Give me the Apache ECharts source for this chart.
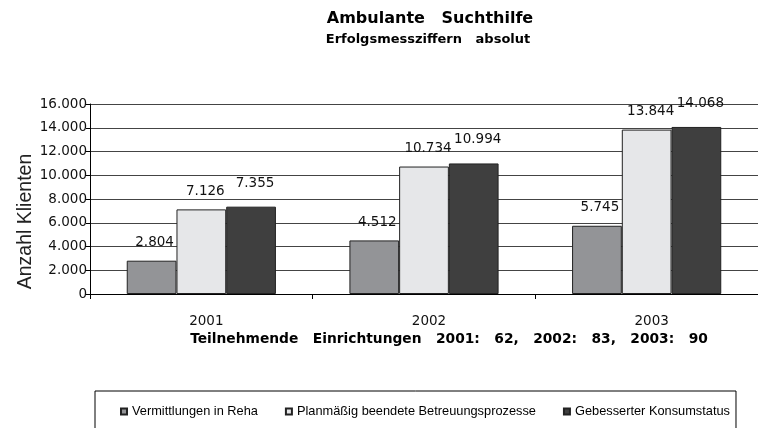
<!DOCTYPE html>
<html>
<head>
<meta charset="utf-8">
<script src="https://cdn.jsdelivr.net/npm/echarts@6/dist/echarts.min.js"></script>
<style>html,body{margin:0;padding:0;background:#fff}#c{width:758px;height:428px}</style>
</head>
<body>
<div id="c"></div>
<script>
var categories = ['2001', '2002', '2003'];
var seriesNames = ['Vermittlungen in Reha', 'Planmäßig beendete Betreuungsprozesse', 'Gebesserter Konsumstatus'];
var vermittlungen = [2804, 4512, 5745];
var planmaessig = [7126, 10734, 13844];
var gebessert = [7355, 10994, 14068];
var titleText = 'Ambulante   Suchthilfe';
var subtitleText = 'Erfolgsmessziffern   absolut';
var xAxisTitle = 'Teilnehmende   Einrichtungen   2001:   62,   2002:   83,   2003:   90';
var yAxisTitle = 'Anzahl Klienten';
var yMin = 0, yMax = 16000, yStep = 2000;

function fmt(v) { return String(v).replace(/\B(?=(\d{3})+(?!\d))/g, '.'); }

var numFont = 'DejaVu Sans';
var chart = echarts.init(document.getElementById('c'), null, {renderer: 'canvas'});
function mkSeries(name, data, color, dist, off) {
  return {
    name: name, type: 'bar', data: data,
    barGap: '0%', barCategoryGap: '33%',
    itemStyle: {color: color, borderColor: '#222', borderWidth: 1},
    label: {show: true, position: 'top', distance: dist, offset: off, formatter: function (p) { return fmt(p.value); },
      color: '#111', fontFamily: numFont, fontSize: 13.5},
    emphasis: {disabled: true}, animation: false
  };
}
chart.setOption({
  animation: false,
  graphic: [
    {type: 'text', x: 430, y: 19, style: {text: titleText, font: 'bold 16px "DejaVu Sans"', fill: '#000', textAlign: 'center', textVerticalAlign: 'middle'}},
    {type: 'text', x: 428, y: 40, style: {text: subtitleText, font: 'bold 13px "DejaVu Sans"', fill: '#000', textAlign: 'center', textVerticalAlign: 'middle'}}
  ],
  grid: {left: 90, right: -5, top: 104, bottom: 134, containLabel: false},
  legend: {
    data: seriesNames, left: 95, top: 391, orient: 'horizontal',
    padding: [14, 6, 30, 25], itemGap: 27, itemWidth: 6, itemHeight: 6, icon: 'rect',
    borderColor: '#000', borderWidth: 1, backgroundColor: '#fff',
    textStyle: {fontFamily: 'Liberation Sans', fontSize: 12.8, color: '#000'}
  },
  xAxis: {
    type: 'category', data: categories,
    axisLine: {lineStyle: {color: '#000', width: 1}},
    axisTick: {show: true, length: 5, lineStyle: {color: '#000'}},
    axisLabel: {margin: 20, fontFamily: numFont, fontSize: 13.5, color: '#111', padding: [0, 0, 0, 10]},
    name: xAxisTitle, nameLocation: 'middle', nameGap: 38, nameMoveOverlap: false,
    nameTextStyle: {fontFamily: 'DejaVu Sans', fontWeight: 'bold', fontSize: 13.8, color: '#000', padding: [0, 0, 0, 50]}
  },
  yAxis: {
    type: 'value', min: yMin, max: yMax, interval: yStep,
    axisLine: {show: true, lineStyle: {color: '#000', width: 1}},
    axisTick: {show: true, length: 4, lineStyle: {color: '#000'}},
    axisLabel: {margin: 3, fontFamily: numFont, fontSize: 13.5, color: '#111', formatter: function (v) { return fmt(v); }},
    splitLine: {show: true, lineStyle: {color: '#444', width: 1}},
    name: yAxisTitle, nameLocation: 'middle', nameGap: 54, nameMoveOverlap: false,
    nameTextStyle: {fontFamily: 'Liberation Sans', fontSize: 19.5, color: '#222', padding: [0, 45, 0, 0]}
  },
  series: [
    mkSeries(seriesNames[0], vermittlungen, '#939497', 11, [3, 0]),
    mkSeries(seriesNames[1], planmaessig, '#e6e7e9', 11, [4, 0]),
    mkSeries(seriesNames[2], gebessert, '#3f3f3f', 16.5, [4, 0])
  ]
});
</script>
</body>
</html>
